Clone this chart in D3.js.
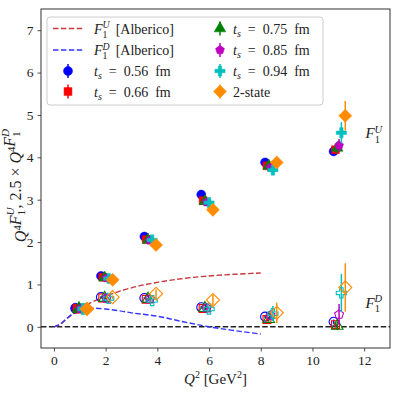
<!DOCTYPE html>
<html>
<head>
<meta charset="utf-8">
<script src="https://cdn.jsdelivr.net/npm/d3@7"></script>
<style>
  body { margin: 0; background: #fff; }
  text { font-family: "Liberation Serif", "DejaVu Serif", serif; fill: #222; }
</style>
</head>
<body>
<div id="chart"></div>
<script>
// ---- data ----
var q2 = [0.83, 1.82, 3.5, 5.7, 8.17, 10.82];
var seriesNames = ["ts056", "ts066", "ts075", "ts085", "ts094", "twoState"];
var seriesLabels = ["0.56", "0.66", "0.75", "0.85", "0.94", "2-state"];
var q2Shift = [0, 0.07, 0.14, 0.21, 0.3, 0.45];

// Q^4 F1^U
var valU = {
  ts056:    [0.45, 1.20, 2.13, 3.12, 3.88, 4.14],
  ts066:    [0.44, 1.17, 2.06, 2.98, 3.80, 4.18],
  ts075:    [0.44, 1.16, 2.05, 2.96, 3.80, 4.22],
  ts085:    [0.43, 1.15, 2.04, 2.94, 3.76, 4.28],
  ts094:    [0.43, 1.14, 2.05, 2.93, 3.70, 4.58],
  twoState: [0.43, 1.11, 1.93, 2.76, 3.88, 4.98]
};
var errU = {
  ts056:    [0.01, 0.02, 0.03, 0.04, 0.05, 0.06],
  ts066:    [0.01, 0.02, 0.03, 0.04, 0.06, 0.08],
  ts075:    [0.01, 0.02, 0.03, 0.05, 0.08, 0.12],
  ts085:    [0.01, 0.02, 0.04, 0.05, 0.08, 0.15],
  ts094:    [0.02, 0.03, 0.05, 0.07, 0.12, 0.25],
  twoState: [0.02, 0.03, 0.05, 0.07, 0.10, 0.35]
};
// 2.5 x Q^4 F1^D
var valD = {
  ts056:    [0.43, 0.70, 0.68, 0.46, 0.24, 0.12],
  ts066:    [0.42, 0.68, 0.65, 0.43, 0.17, 0.05],
  ts075:    [0.42, 0.68, 0.66, 0.44, 0.18, 0.02],
  ts085:    [0.42, 0.67, 0.65, 0.44, 0.27, 0.29],
  ts094:    [0.42, 0.67, 0.62, 0.42, 0.31, 0.80],
  twoState: [0.42, 0.70, 0.78, 0.63, 0.33, 0.93]
};
var errD = {
  ts056:    [0.01, 0.02, 0.02, 0.03, 0.04, 0.05],
  ts066:    [0.01, 0.02, 0.03, 0.03, 0.05, 0.06],
  ts075:    [0.01, 0.02, 0.03, 0.04, 0.06, 0.10],
  ts085:    [0.01, 0.02, 0.03, 0.05, 0.10, 0.25],
  ts094:    [0.01, 0.03, 0.04, 0.06, 0.18, 0.45],
  twoState: [0.02, 0.04, 0.10, 0.12, 0.24, 0.57]
};

// Alberico model curves
var albQ2 = [0, 0.25, 0.5, 0.75, 1.0, 1.25, 1.5, 2, 2.5, 3, 4, 5, 6, 7, 8];
var albU  = [0, 0.06, 0.19, 0.32, 0.43, 0.52, 0.59, 0.72, 0.83, 0.92, 1.05, 1.14, 1.20, 1.24, 1.27];
var albD  = [0, 0.07, 0.2, 0.31, 0.39, 0.43, 0.44, 0.42, 0.38, 0.33, 0.25, 0.12, 0.0, -0.09, -0.17];

var xTicks = [0, 2, 4, 6, 8, 10, 12];
var yTicks = [0, 1, 2, 3, 4, 5, 6, 7];

// ---- layout ----
var W = 399, H = 396;
var margin = {top: 9, right: 9, bottom: 48, left: 41},
    width = W - margin.left - margin.right,
    height = H - margin.top - margin.bottom;

var colors = {ts056: "#0000ff", ts066: "#ff0000", ts075: "#008000",
              ts085: "#bf00bf", ts094: "#00bfbf", twoState: "#ff8c00"};

var symPentagon = {
  draw: function(ctx, size) {
    var r = Math.sqrt(size / 2.378);
    for (var i = 0; i < 5; i++) {
      var a = -Math.PI / 2 + i * 2 * Math.PI / 5;
      if (i) ctx.lineTo(r * Math.cos(a), r * Math.sin(a));
      else ctx.moveTo(r * Math.cos(a), r * Math.sin(a));
    }
    ctx.closePath();
  }
};

var markers = {
  ts056:    {type: d3.symbolCircle, size: 64, rot: 0},
  ts066:    {type: d3.symbolSquare, size: 62, rot: 0},
  ts075:    {type: d3.symbolTriangle, size: 58, rot: 0},
  ts085:    {type: symPentagon, size: 52, rot: 0},
  ts094:    {type: d3.symbolCross, size: 58, rot: 0},
  twoState: {type: d3.symbolSquare, size: 85, rot: 45}
};

var svg = d3.select("#chart").append("svg")
    .attr("width", W).attr("height", H);

var g = svg.append("g")
    .attr("transform", "translate(" + margin.left + "," + margin.top + ")");

var x = d3.scaleLinear().domain([-0.5, 13]).range([0, width]);
var y = d3.scaleLinear().domain([-0.5, 7.5]).range([height, 0]);

// axes
var xAxis = g.append("g")
    .attr("transform", "translate(0," + height + ")")
    .call(d3.axisBottom(x).tickValues(xTicks).tickSize(3.5).tickPadding(4));
var yAxis = g.append("g")
    .call(d3.axisLeft(y).tickValues(yTicks).tickSize(3.5).tickPadding(4));
[xAxis, yAxis].forEach(function(a) {
  a.select(".domain").remove();
  a.selectAll(".tick line").attr("stroke", "#222").attr("stroke-width", 0.8);
  a.selectAll(".tick text").style("font-size", "13.5px")
    .style("font-family", "'Liberation Serif', serif").attr("fill", "#333");
});

// frame
g.append("rect")
    .attr("width", width).attr("height", height)
    .attr("fill", "none").attr("stroke", "#333").attr("stroke-width", 1);

var plot = g.append("g");

// zero line
plot.append("line")
    .attr("x1", 0).attr("x2", width)
    .attr("y1", y(0)).attr("y2", y(0))
    .attr("stroke", "#222").attr("stroke-width", 1.5)
    .attr("stroke-dasharray", "5.5,2.4");

var line = d3.line().curve(d3.curveMonotoneX)
    .x(function(d) { return x(d[0]); })
    .y(function(d) { return y(d[1]); });

plot.append("path")
    .attr("d", line(d3.zip(albQ2, albU)))
    .attr("fill", "none").attr("stroke", "#c8383c").attr("stroke-width", 1.4)
    .attr("stroke-dasharray", "5.5,2.4");
plot.append("path")
    .attr("d", line(d3.zip(albQ2, albD)))
    .attr("fill", "none").attr("stroke", "#3535ff").attr("stroke-width", 1.4)
    .attr("stroke-dasharray", "5.5,2.4");

function symbolPath(name) {
  return d3.symbol().type(markers[name].type).size(markers[name].size)();
}

function drawSet(name, si, vals, errs, open) {
  var c = colors[name];
  var pts = q2.map(function(q, i) {
    return {x: q + q2Shift[si], v: vals[name][i], e: errs[name][i]};
  });
  var grp = plot.append("g");
  grp.selectAll("line.err")
    .data(pts).enter().append("line")
      .attr("class", "err")
      .attr("x1", function(d) { return x(d.x); })
      .attr("x2", function(d) { return x(d.x); })
      .attr("y1", function(d) { return y(d.v - d.e); })
      .attr("y2", function(d) { return y(d.v + d.e); })
      .attr("stroke", c).attr("stroke-width", 1.5);
  grp.selectAll("path.mk")
    .data(pts).enter().append("path")
      .attr("class", "mk")
      .attr("d", symbolPath(name))
      .attr("transform", function(d) {
        return "translate(" + x(d.x) + "," + y(d.v) + ") rotate(" + markers[name].rot + ")";
      })
      .attr("fill", open ? "none" : c)
      .attr("stroke", c)
      .attr("stroke-width", open ? 1.1 : 0.5);
}

seriesNames.forEach(function(name, si) {
  drawSet(name, si, valD, errD, true);
  drawSet(name, si, valU, errU, false);
});

// math label helper: F with stacked sub 1 and superscript
function addF(t, sup, fs) {
  var small = fs * 0.7;
  t.append("tspan").attr("font-style", "italic").text("F");
  t.append("tspan").attr("font-style", "italic").attr("font-size", small)
    .attr("dy", -fs * 0.38).text(sup);
  t.append("tspan").attr("font-size", small)
    .attr("dx", -small * 0.72).attr("dy", fs * 0.68).text("1");
  t.append("tspan").attr("dy", -fs * 0.3).text("\u200a");
}

// right-side annotations
var annU = plot.append("text").attr("x", x(12.05)).attr("y", y(4.45)).style("font-size", "15px");
addF(annU, "U", 15);
var annD = plot.append("text").attr("x", x(12.05)).attr("y", y(0.45)).style("font-size", "15px");
addF(annD, "D", 15);

// legend
var leg = g.append("g").attr("transform", "translate(6,8)");
leg.append("rect")
    .attr("width", 276).attr("height", 88).attr("rx", 3)
    .attr("fill", "#fff").attr("fill-opacity", 0.85)
    .attr("stroke", "#ccc").attr("stroke-width", 1);

var rowY = [11.5, 33, 54, 74.5];

function legendText(xp, yp) {
  return leg.append("text").attr("x", xp).attr("y", yp + 5).style("font-size", "14px");
}

[["#c8383c", "U"], ["#3535ff", "D"]].forEach(function(d, i) {
  leg.append("line")
    .attr("x1", 6).attr("x2", 36).attr("y1", rowY[i]).attr("y2", rowY[i])
    .attr("stroke", d[0]).attr("stroke-width", 1.4).attr("stroke-dasharray", "5.5,2.4");
  var t = legendText(47, rowY[i]);
  addF(t, d[1], 14);
  t.append("tspan").text("\u2002[Alberico]");
});

var legPos = [[21, 47, rowY[2]], [21, 47, rowY[3]], [173, 186, rowY[0]],
              [173, 186, rowY[1]], [173, 186, rowY[2]], [173, 186, rowY[3]]];

seriesNames.forEach(function(name, i) {
  var p = legPos[i], c = colors[name];
  leg.append("line")
    .attr("x1", p[0]).attr("x2", p[0]).attr("y1", p[2] - 7).attr("y2", p[2] + 7)
    .attr("stroke", c).attr("stroke-width", 1.5);
  leg.append("path")
    .attr("d", symbolPath(name))
    .attr("transform", "translate(" + p[0] + "," + p[2] + ") rotate(" + markers[name].rot + ")")
    .attr("fill", c).attr("stroke", c).attr("stroke-width", 0.5);
  var t = legendText(p[1], p[2]);
  if (name === "twoState") {
    t.text("2-state");
  } else {
    t.append("tspan").attr("font-style", "italic").text("t");
    t.append("tspan").attr("font-style", "italic").attr("font-size", 10).attr("dy", 3).text("s");
    t.append("tspan").attr("dy", -3).text("\u2002=\u2002" + seriesLabels[i] + "\u2002fm");
  }
});

// axis labels
var xl = svg.append("text")
    .attr("x", margin.left + width / 2).attr("y", 384)
    .attr("text-anchor", "middle").style("font-size", "15px");
xl.append("tspan").attr("font-style", "italic").text("Q");
xl.append("tspan").attr("font-size", 10).attr("dy", -6).text("2");
xl.append("tspan").attr("dy", 6).text(" [GeV");
xl.append("tspan").attr("font-size", 10).attr("dy", -6).text("2");
xl.append("tspan").attr("dy", 6).text("]");

var yl = svg.append("text")
    .attr("transform", "translate(26," + (margin.top + height / 2 + 7) + ") rotate(-90)")
    .attr("text-anchor", "middle").style("font-size", "16px");
yl.append("tspan").attr("font-style", "italic").text("Q");
yl.append("tspan").attr("font-size", 10.5).attr("dy", -5.5).text("4");
yl.append("tspan").attr("dy", 5.5).text("");
addF(yl, "U", 16);
yl.append("tspan").text(", 2.5 \u00d7 ");
yl.append("tspan").attr("font-style", "italic").text("Q");
yl.append("tspan").attr("font-size", 10.5).attr("dy", -5.5).text("4");
yl.append("tspan").attr("dy", 5.5).text("");
addF(yl, "D", 16);
</script>
</body>
</html>
